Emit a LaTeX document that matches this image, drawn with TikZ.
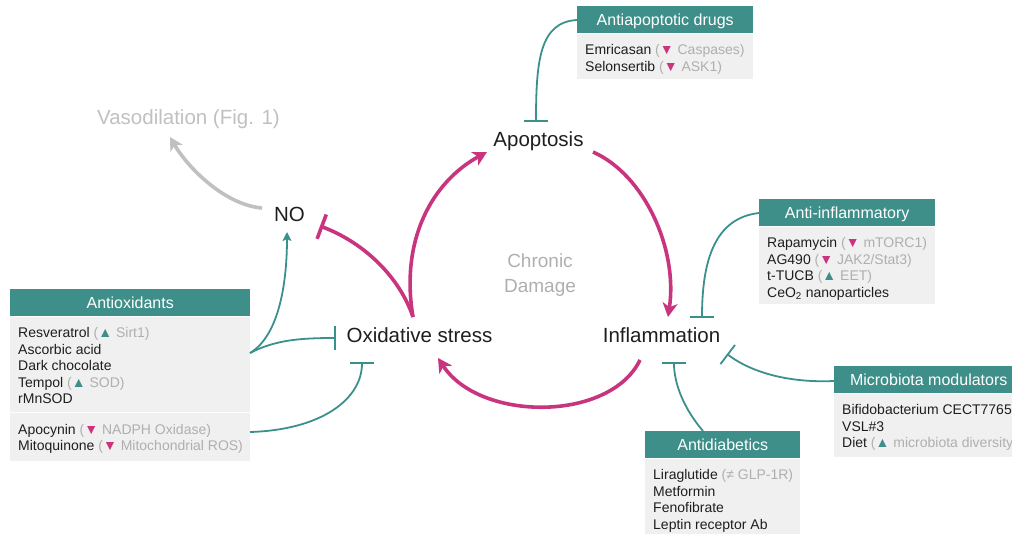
\documentclass[tikz,border=0pt]{standalone}
\usepackage{fontspec}
\setmainfont{Liberation Sans}
\usetikzlibrary{arrows.meta}
\definecolor{pk}{RGB}{200,52,125}
\definecolor{tl}{RGB}{62,143,138}
\definecolor{tline}{RGB}{58,145,140}
\definecolor{lg}{RGB}{175,175,175}
\definecolor{bg}{RGB}{240,240,240}
\definecolor{tx}{RGB}{30,30,30}
\definecolor{vg}{RGB}{192,192,192}
\newcommand\dn[1]{\textcolor{lg}{(}\textcolor{pk}{▼}\ \textcolor{lg}{#1)}}
\newcommand\up[1]{\textcolor{lg}{(}\textcolor{tl}{▲}\ \textcolor{lg}{#1)}}
\newcommand\drugbox[7]{%
  \node[hdr, minimum width=#4] (#1) at (#2,#3) {#5};
  \node[bodyb, minimum width=#4, minimum height=#6] (#1-b) at (#1.south west) {};
  \node[bodyt] (#1-t) at ([xshift=8pt,yshift=-8pt]#1-b.north west) {\rule{0pt}{13pt}#7};
}
\begin{document}
\begin{tikzpicture}[x=1pt,y=-1pt,
  hdr/.style={fill=tl, text=white, font=\fontsize{16}{19}\selectfont, minimum height=27pt,
    inner sep=0pt, text height=11.5pt, text depth=0pt, anchor=north west},
  bodyb/.style={fill=bg, inner sep=0pt, anchor=north west},
  bodyt/.style={align=left, inner sep=0pt, anchor=north west, text=tx,
    font=\fontsize{14}{16.5}\selectfont},
  lbl/.style={font=\fontsize{20.5}{24}\selectfont, text=tx, inner sep=0pt, anchor=base},
  pka/.style={draw=pk, line width=3.6pt, -{Stealth[length=14pt,width=15pt,inset=4pt]}},
  pkb/.style={draw=pk, line width=3.6pt, -{Bar[width=26pt]}},
  ta/.style={draw=tline, line width=1.8pt, -{Stealth[length=9pt,width=9pt,inset=2pt]}},
  tb/.style={draw=tline, line width=1.8pt, -{Bar[width=24pt]}},
  ga/.style={draw=vg, line width=3.6pt, -{Stealth[length=13pt,width=14pt,inset=3.5pt]}}
]
\useasboundingbox (0,0) rectangle (1012,534);

% main labels
\node[lbl] (apo) at (538.5,147) {Apoptosis};
\node[lbl] (ox) at (419.5,343) {Oxidative stress};
\node[lbl] (inf) at (661.5,343) {Inflammation};
\node[lbl] (no) at (289.5,222) {NO};
\node[lbl, text=vg] (vaso) at (188.5,125) {Vasodilation (Fig. 1)};
\node[lbl, text=lg, font=\fontsize{19}{24}\selectfont] (chr) at (540,268) {Chronic};
\node[lbl, text=lg, font=\fontsize{19}{24}\selectfont] (dam) at (540,293) {Damage};

% boxes
\drugbox{aap}{577}{6}{176pt}{Antiapoptotic drugs}{45pt}{Emricasan \dn{Caspases}\\Selonsertib \dn{ASK1}}
\drugbox{ainf}{759}{199}{176pt}{Anti-inflammatory}{77pt}{Rapamycin \dn{mTORC1}\\AG490 \dn{JAK2/Stat3}\\t-TUCB \up{EET}\\CeO\textsubscript{2} nanoparticles}
\drugbox{adia}{645}{431}{155pt}{Antidiabetics}{80pt}{Liraglutide \textcolor{lg}{(≠ GLP-1R)}\\Metformin\\Fenofibrate\\Leptin receptor Ab}
\drugbox{mic}{834}{366}{189pt}{Microbiota modulators}{63pt}{Bifidobacterium CECT7765\\VSL\#3\\Diet \up{microbiota diversity}}
\drugbox{aox}{10}{289}{240pt}{Antioxidants}{95pt}{Resveratrol \up{Sirt1}\\Ascorbic acid\\Dark chocolate\\Tempol \up{SOD}\\rMnSOD}
\node[bodyb, minimum width=240pt, minimum height=48pt] (aox-c) at (10,413) {};
\node[bodyt] (aox-d) at ([xshift=8pt,yshift=-8pt]aox-c.north west) {\rule{0pt}{13pt}Apocynin \dn{NADPH Oxidase}\\Mitoquinone \dn{Mitochondrial ROS}};

% connector end points
\coordinate (oxs) at (413,317);
\coordinate (apoin) at (487,152);
\coordinate (nobar) at (320,226);
\coordinate (apoout) at (593,152);
\coordinate (infin) at (668,317);
\coordinate (infout) at (640,360);
\coordinate (oxin) at (438,358);
\coordinate (noout) at (262,208);
\coordinate (vasoin) at (170,137);
\coordinate (aox1) at (250,353);
\coordinate (aox2) at (250,432);
\coordinate (noin) at (287,232);
\coordinate (oxbar1) at (336,338);
\coordinate (oxbar2) at (362,362);
\coordinate (apobar) at (536,122);
\coordinate (infbar1) at (702,318);
\coordinate (infbar2) at (727,354);
\coordinate (infbar3) at (674,362);
\coordinate (aapout) at (577,20);
\coordinate (ainfout) at (759,213);
\coordinate (micout) at (834,381);
\coordinate (adiaout) at (703,431);

% pink cycle
\draw[pka] (oxs) .. controls (400,240) and (432,182) .. (apoin);
\draw[pkb] (oxs) .. controls (400,278) and (365,243) .. (nobar);
\draw[pka] (apoout) .. controls (645,175) and (678,250) .. (infin);
\draw[pka] (infout) .. controls (610,422) and (480,422) .. (oxin);
% grey
\draw[ga] (noout) .. controls (225,205) and (188,168) .. (vasoin);
% teal
\draw[ta] (aox1) .. controls (280,335) and (287,280) .. (noin);
\draw[tb] (aox1) .. controls (275,340) and (300,338) .. (oxbar1);
\draw[tb] (aox2) .. controls (320,430) and (362,400) .. (oxbar2);
\draw[tb] (aapout) .. controls (540,22) and (536,60) .. (apobar);
\draw[tb] (ainfout) .. controls (715,218) and (702,260) .. (infbar1);
\draw[tb] (micout) .. controls (790,383) and (752,373) .. (infbar2);
\draw[tb] (adiaout) .. controls (685,410) and (674,385) .. (infbar3);
\end{tikzpicture}
\end{document}
